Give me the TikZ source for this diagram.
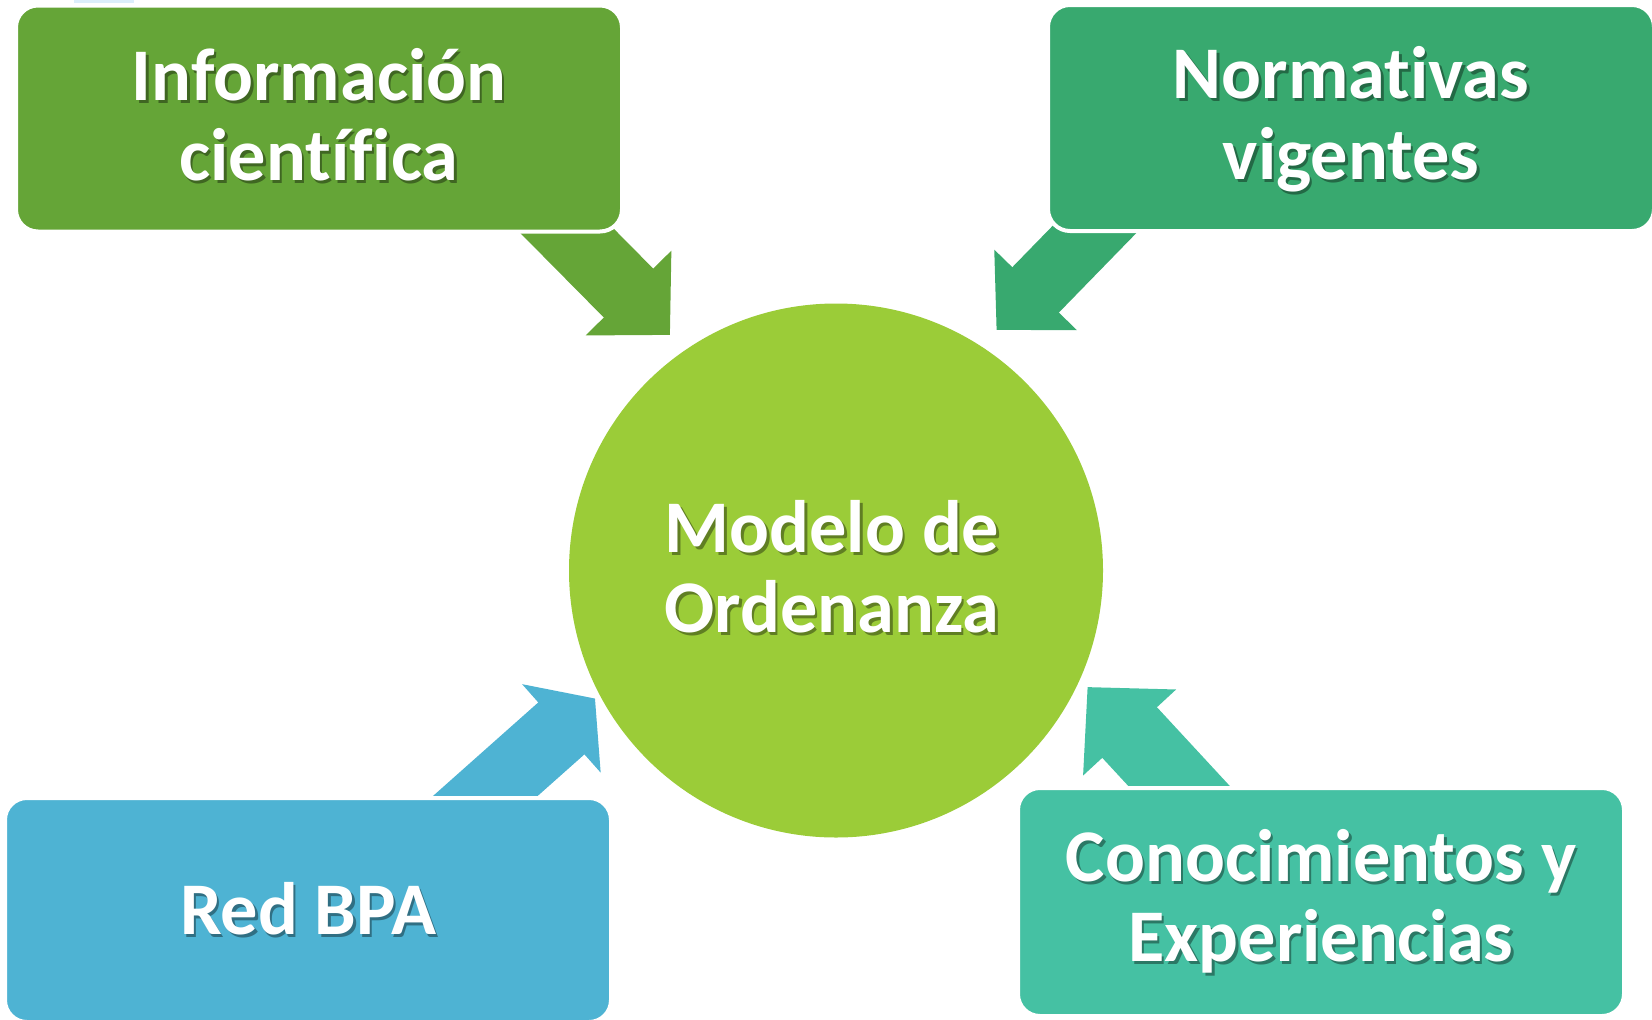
\documentclass[tikz,border=0pt]{standalone}
\usepackage{fontspec}
\setmainfont[Ligatures=NoCommon]{Carlito}
\usetikzlibrary{arrows.meta}
\definecolor{cgreen}{HTML}{65A537}
\definecolor{cdgreen}{HTML}{38A96F}
\definecolor{cblue}{HTML}{4EB3D3}
\definecolor{cteal}{HTML}{45C1A3}
\definecolor{clime}{HTML}{9BCC38}
\definecolor{csliver}{HTML}{DCEEFB}
\newcommand{\shl}[2]{\makebox[0pt][l]{\kern2.5pt\raisebox{-3pt}{\textcolor{#1!62!black}{#2}}}#2}
\newcommand{\tp}[1]{\rule{0pt}{#1}}
\newcommand{\bt}{\rule[-14pt]{0pt}{14pt}}
\tikzset{
  lbl/.style={text=white,align=center,font=\bfseries\fontsize{74.3}{80.5}\selectfont,inner sep=0pt,outer sep=0pt},
  boxn/.style={lbl,rectangle,rounded corners=22pt,draw=white,line width=4pt,minimum width=#1,minimum height=226pt},
  blockarrow/.style n args={4}{draw=#1,line width=#2,-{Triangle[length=#3,width=#4,sep=0pt,fill=#1]}}
}
\begin{document}
\begin{tikzpicture}[x=1pt,y=-1pt]
\useasboundingbox (0,0) rectangle (1652,1020);
\fill[csliver] (74,0) rectangle (134,3);
% coordinates of the arrow tails (hidden beneath the boxes) and tips
\coordinate (t1) at (535.5,199);
\coordinate (h1) at (670,335);
\coordinate (t2) at (1129,194);
\coordinate (h2) at (996.5,330);
\coordinate (t3) at (438,838);
\coordinate (h3) at (595,698.5);
\coordinate (t4) at (1217,827);
\coordinate (h4) at (1087.5,687);
\draw[blockarrow={cgreen}{69.5pt}{59pt}{117pt}] (t1) -- (h1);
\draw[blockarrow={cdgreen}{65pt}{56pt}{112pt}] (t2) -- (h2);
\draw[blockarrow={cblue}{69.5pt}{45pt}{116pt}] (t3) -- (h3);
\draw[blockarrow={cteal}{74.5pt}{62pt}{123pt}] (t4) -- (h4);
\node[lbl,circle,fill=clime,minimum size=534pt] (c) at (836,570.5) {\tp{58pt}\shl{clime}{Modelo de}\kern8pt\\\shl{clime}{Ordenanza}\kern8pt\bt};
\node[boxn=606pt,fill=cgreen] (b1) at (319,118.5) {\tp{58pt}\shl{cgreen}{Información}\\\shl{cgreen}{científica}\bt};
\node[boxn=606pt,fill=cdgreen] (b2) at (1351,118) {\tp{58pt}\shl{cdgreen}{Normativas}\\\shl{cdgreen}{vigentes}\bt};
\node[boxn=606pt,fill=cblue,minimum height=224pt] (b3) at (308,910) {\tp{62pt}\shl{cblue}{Red BPA}\bt};
\node[boxn=606pt,fill=cteal,minimum height=228pt] (b4) at (1321,902) {\tp{54pt}\shl{cteal}{Conocimientos y}\\\shl{cteal}{Experiencias}\bt};
\end{tikzpicture}
\end{document}
